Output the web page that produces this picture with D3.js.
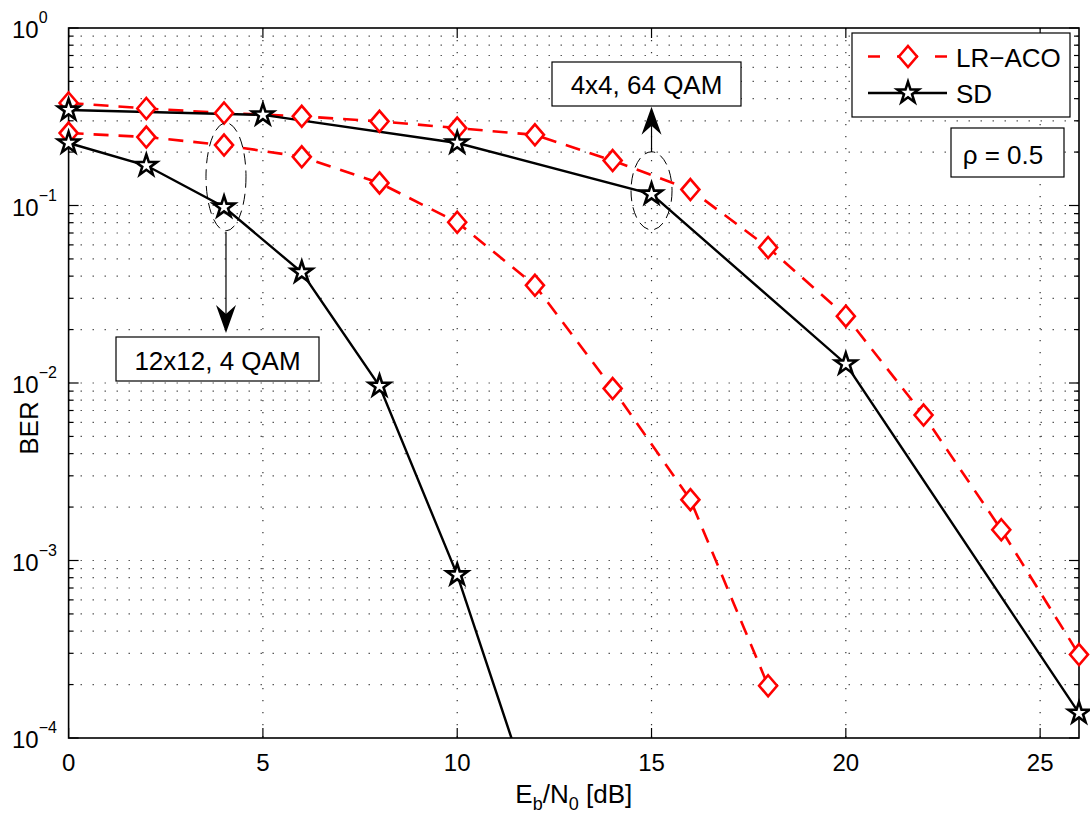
<!DOCTYPE html>
<html>
<head>
<meta charset="utf-8">
<script src="https://cdn.jsdelivr.net/npm/d3@7"></script>
<style>
  html, body { margin: 0; padding: 0; background: #fff; }
  svg { display: block; font-family: "Liberation Sans", Arial, Helvetica, sans-serif; }
</style>
</head>
<body>
<svg id="chart" width="1090" height="818"></svg>
<script>
// ---------- data ----------
const xEven = [0, 2, 4, 6, 8, 10, 12, 14, 16, 18, 20, 22, 24, 26];
const lrAco64 = [0.378, 0.352, 0.332, 0.318, 0.298, 0.273, 0.250, 0.179, 0.123, 0.058, 0.0238, 0.0066, 0.00149, 0.000295];

const xSd64 = [0, 5, 10, 15, 20, 26];
const sd64 = [0.345, 0.324, 0.225, 0.116, 0.0128, 0.000138];

const xLr4 = [0, 2, 4, 6, 8, 10, 12, 14, 16, 18];
const lrAco4 = [0.256, 0.243, 0.219, 0.188, 0.134, 0.0805, 0.0355, 0.0093, 0.0022, 0.000197];

const xSd4 = [0, 2, 4, 6, 8, 10, 12];
const sd4 = [0.225, 0.168, 0.098, 0.042, 0.0096, 0.00083, 0.00004];

const xTicks = [0, 5, 10, 15, 20, 25];
const yDecades = [0, -1, -2, -3, -4];
const legendLabels = ["LR\u2212ACO", "SD"];

// ---------- layout ----------
const svg = d3.select("#chart");
const L = 68.6, R = 1079, T = 28, B = 738;
const x = d3.scaleLinear().domain([0, 26]).range([L, R]);
const y = d3.scaleLog().domain([1e-4, 1]).range([B, T]);

// clip
svg.append("defs").append("clipPath").attr("id", "plotclip")
  .append("rect").attr("x", L).attr("y", T).attr("width", R - L).attr("height", B - T);

// ---------- grid ----------
const grid = svg.append("g");
const minorVals = [];
for (let e = -4; e < 0; e++) for (let m = 1; m <= 9; m++) minorVals.push(m * Math.pow(10, e));
minorVals.push(1);
grid.selectAll("line.hg").data(minorVals.filter(v => v > 1e-4 && v < 1)).enter().append("line")
  .attr("x1", L).attr("x2", R).attr("y1", d => y(d)).attr("y2", d => y(d))
  .attr("stroke", "#333").attr("stroke-width", 1.2).attr("stroke-dasharray", "1.2,10.8");
grid.selectAll("line.vg").data(xTicks.filter(v => v > 0)).enter().append("line")
  .attr("x1", d => x(d)).attr("x2", d => x(d)).attr("y1", T).attr("y2", B)
  .attr("stroke", "#333").attr("stroke-width", 1.2).attr("stroke-dasharray", "1.2,10.8");

// ---------- axes box & ticks ----------
const axes = svg.append("g");
axes.append("rect").attr("x", L).attr("y", T).attr("width", R - L).attr("height", B - T)
  .attr("fill", "none").attr("stroke", "#000").attr("stroke-width", 1.6);
xTicks.forEach(v => {
  axes.append("line").attr("x1", x(v)).attr("x2", x(v)).attr("y1", B).attr("y2", B - 10).attr("stroke", "#000").attr("stroke-width", 1.2);
  axes.append("line").attr("x1", x(v)).attr("x2", x(v)).attr("y1", T).attr("y2", T + 10).attr("stroke", "#000").attr("stroke-width", 1.2);
});
minorVals.forEach(v => {
  const major = Math.abs(Math.log10(v) - Math.round(Math.log10(v))) < 1e-9;
  const len = major ? 10 : 5;
  axes.append("line").attr("x1", L).attr("x2", L + len).attr("y1", y(v)).attr("y2", y(v)).attr("stroke", "#000").attr("stroke-width", 1.2);
  axes.append("line").attr("x1", R).attr("x2", R - len).attr("y1", y(v)).attr("y2", y(v)).attr("stroke", "#000").attr("stroke-width", 1.2);
});

// x tick labels
axes.selectAll("text.xt").data(xTicks).enter().append("text")
  .attr("x", d => x(d)).attr("y", 771).attr("text-anchor", "middle")
  .attr("font-size", 24).text(d => d);

// y tick labels
yDecades.forEach(e => {
  const t = axes.append("text").attr("x", 12).attr("y", y(Math.pow(10, e)) + 10).attr("font-size", 24);
  t.append("tspan").text("10");
  t.append("tspan").attr("dy", -15).attr("font-size", 16).text(e === 0 ? "0" : "\u2212" + Math.abs(e));
});

// axis labels
const xl = svg.append("text").attr("x", (L + R) / 2).attr("y", 803).attr("text-anchor", "middle").attr("font-size", 26);
xl.append("tspan").text("E");
xl.append("tspan").attr("font-size", 18).attr("dy", 7).text("b");
xl.append("tspan").attr("dy", -7).text("/N");
xl.append("tspan").attr("font-size", 18).attr("dy", 7).text("0");
xl.append("tspan").attr("dy", -7).text(" [dB]");

svg.append("text").attr("transform", `translate(38,${(T + B) / 2 + 45}) rotate(-90)`)
  .attr("text-anchor", "middle").attr("font-size", 26).text("BER");

// ---------- series ----------
const plot = svg.append("g");
const clipG = plot.append("g").attr("clip-path", "url(#plotclip)");
const lineGen = d3.line().x(d => x(d[0])).y(d => y(d[1]));

const series = [
  { xs: xEven, ys: lrAco64, type: "lr" },
  { xs: xSd64, ys: sd64, type: "sd" },
  { xs: xLr4, ys: lrAco4, type: "lr" },
  { xs: xSd4, ys: sd4, type: "sd" }
];

const diamondPath = "M0,-10.5L9,0L0,10.5L-9,0Z";
const starSym = d3.symbol().type(d3.symbolStar).size(140);

function drawMarker(g, type, px, py) {
  if (type === "lr") {
    g.append("path").attr("d", diamondPath).attr("transform", `translate(${px},${py})`)
      .attr("fill", "#fff").attr("stroke", "#ff0000").attr("stroke-width", 2.6);
  } else {
    g.append("path").attr("d", starSym()).attr("transform", `translate(${px},${py})`)
      .attr("fill", "#fff").attr("stroke", "#000").attr("stroke-width", 2.6).attr("stroke-linejoin", "miter");
  }
}

series.forEach(s => {
  const pts = s.xs.map((v, i) => [v, s.ys[i]]);
  clipG.append("path").datum(pts).attr("d", lineGen).attr("fill", "none")
    .attr("stroke", s.type === "lr" ? "#ff0000" : "#000")
    .attr("stroke-width", s.type === "lr" ? 2.6 : 2.4)
    .attr("stroke-dasharray", s.type === "lr" ? "15,10" : null);
});
series.forEach(s => {
  s.xs.forEach((v, i) => {
    if (s.ys[i] >= 1e-4) drawMarker(plot, s.type, x(v), y(s.ys[i]));
  });
});

// ---------- annotations ----------
const ann = svg.append("g");
// ellipses
ann.append("ellipse").attr("cx", x(4.05)).attr("cy", y(0.145)).attr("rx", 20).attr("ry", 54)
  .attr("fill", "none").attr("stroke", "#000").attr("stroke-width", 1).attr("stroke-dasharray", "11,6");
ann.append("ellipse").attr("cx", x(15)).attr("cy", y(0.121)).attr("rx", 20.5).attr("ry", 39)
  .attr("fill", "none").attr("stroke", "#000").attr("stroke-width", 1).attr("stroke-dasharray", "11,6");

function arrow(px, y0, y1) {
  // y0 start, y1 tip
  const dir = y1 > y0 ? 1 : -1;
  const headLen = 28, hw = 10, notch = 19;
  ann.append("line").attr("x1", px).attr("x2", px).attr("y1", y0).attr("y2", y1 - dir * notch)
    .attr("stroke", "#000").attr("stroke-width", 1.2);
  ann.append("path")
    .attr("d", `M${px},${y1}L${px - hw},${y1 - dir * headLen}L${px},${y1 - dir * notch}L${px + hw},${y1 - dir * headLen}Z`)
    .attr("fill", "#000");
}
arrow(x(4.05), y(0.071), y(0.0191));
arrow(x(15), y(0.2), y(0.36));

function textBox(bx, by, bw, bh, tx, ty, label) {
  ann.append("rect").attr("x", bx).attr("y", by).attr("width", bw).attr("height", bh)
    .attr("fill", "#fff").attr("stroke", "#000").attr("stroke-width", 1.2);
  ann.append("text").attr("x", tx).attr("y", ty).attr("text-anchor", "middle").attr("font-size", 26).text(label);
}
textBox(116, 337, 203, 44, 217.5, 369.5, "12x12, 4 QAM");
textBox(552, 62, 189, 44, 646.5, 94, "4x4, 64 QAM");
textBox(951, 128, 113, 49, 1003, 164, "\u03c1 = 0.5");

// ---------- legend ----------
const lg = svg.append("g");
lg.append("rect").attr("x", 852).attr("y", 33).attr("width", 218).attr("height", 84)
  .attr("fill", "#fff").attr("stroke", "#000").attr("stroke-width", 1.2);
const rowsY = [56.5, 93];
lg.append("line").attr("x1", 868).attr("x2", 947).attr("y1", rowsY[0]).attr("y2", rowsY[0])
  .attr("stroke", "#ff0000").attr("stroke-width", 2.6).attr("stroke-dasharray", "12,17,21,17,12");
drawMarker(lg, "lr", 908, rowsY[0]);
lg.append("line").attr("x1", 868).attr("x2", 947).attr("y1", rowsY[1]).attr("y2", rowsY[1])
  .attr("stroke", "#000").attr("stroke-width", 2.4);
drawMarker(lg, "sd", 908, rowsY[1]);
legendLabels.forEach((t, i) => {
  lg.append("text").attr("x", 956).attr("y", rowsY[i] + 10).attr("font-size", 26).text(t);
});
</script>
</body>
</html>
